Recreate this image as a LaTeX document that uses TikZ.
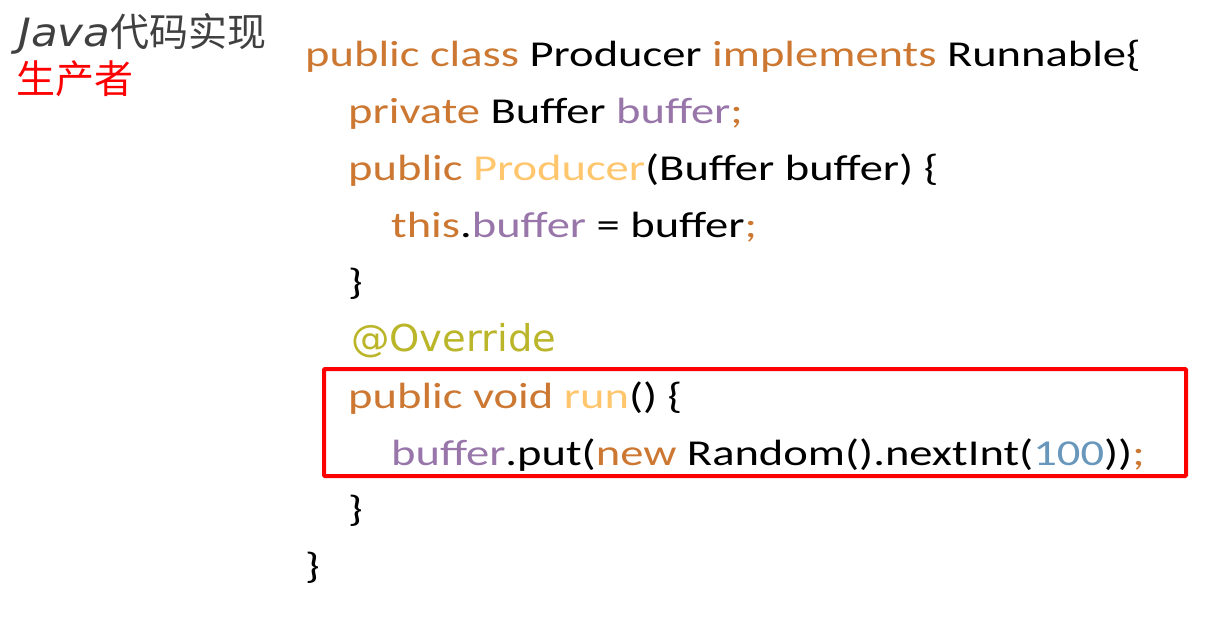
\documentclass[tikz,border=0pt]{standalone}
\usepackage{fontspec}
\setmainfont{Carlito}[FakeStretch=1.275]
\newfontfamily\cjk{Noto Sans CJK SC}
\newfontfamily\javafont{DejaVu Sans}[FakeStretch=1.12]
\newfontfamily\annfont{DejaVu Sans}[FakeStretch=1.04]
\definecolor{kw}{HTML}{CC7832}
\definecolor{fld}{HTML}{9876AA}
\definecolor{fn}{HTML}{FFC66D}
\definecolor{ann}{HTML}{BBB529}
\definecolor{num}{HTML}{6897BB}
\definecolor{ttl}{HTML}{404040}
\newcommand{\K}[1]{\textcolor{kw}{#1}}
\newcommand{\F}[1]{\textcolor{fld}{#1}}
\newcommand{\M}[1]{\textcolor{fn}{#1}}
\newcommand{\N}[1]{\textcolor{num}{#1}}
\begin{document}
\begin{tikzpicture}[x=1pt,y=1pt,
  codeline/.style={anchor=base west,inner sep=0pt,font=\fontsize{36.5}{44}\selectfont,text=black},
  hilite/.style={draw=red,line width=4pt,rounded corners=1pt}]
\useasboundingbox (0,0) rectangle (1225,-620);
\fill[white] (0,0) rectangle (1225,-620);
% title
\node[anchor=base west,inner sep=0pt,text=ttl] (t1) at (18,-47)
  {\fontsize{39}{44}\selectfont\javafont\itshape Java\cjk\upshape\fontsize{39}{44}\selectfont 代码实现};
\node[anchor=base west,inner sep=0pt,text=red] (t2) at (16,-94)
  {\cjk\fontsize{39}{44}\selectfont 生产者};
% code
\node[codeline] (l1) at (305,-66.7) {\K{public class} Producer \K{implements} Runnable\{};
\node[codeline] (l2) at (348,-123.6) {\K{private} Buffer \F{buffer}\K{;}};
\node[codeline] (l3) at (348,-180.5) {\K{public} \M{Producer}(Buffer buffer) \{};
\node[codeline] (l4) at (391,-237.4) {\K{this}.\F{buffer} = buffer\K{;}};
\node[codeline] (l5) at (348,-294.3) {\}};
\node[codeline,font=\annfont\fontsize{37}{44}\selectfont,text=ann] (l6) at (351,-351.2) {@Override};
\node[codeline] (l7) at (348,-408.1) {\K{public void} \M{run}() \{};
\node[codeline] (l8) at (391,-465) {\F{buffer}.put(\K{new} Random().nextInt(\N{100}))\K{;}};
\node[codeline] (l9) at (348,-521.9) {\}};
\node[codeline] (l10) at (305,-578.8) {\}};
\draw[hilite] (324,-369) rectangle (1186,-476);
\end{tikzpicture}
\end{document}
